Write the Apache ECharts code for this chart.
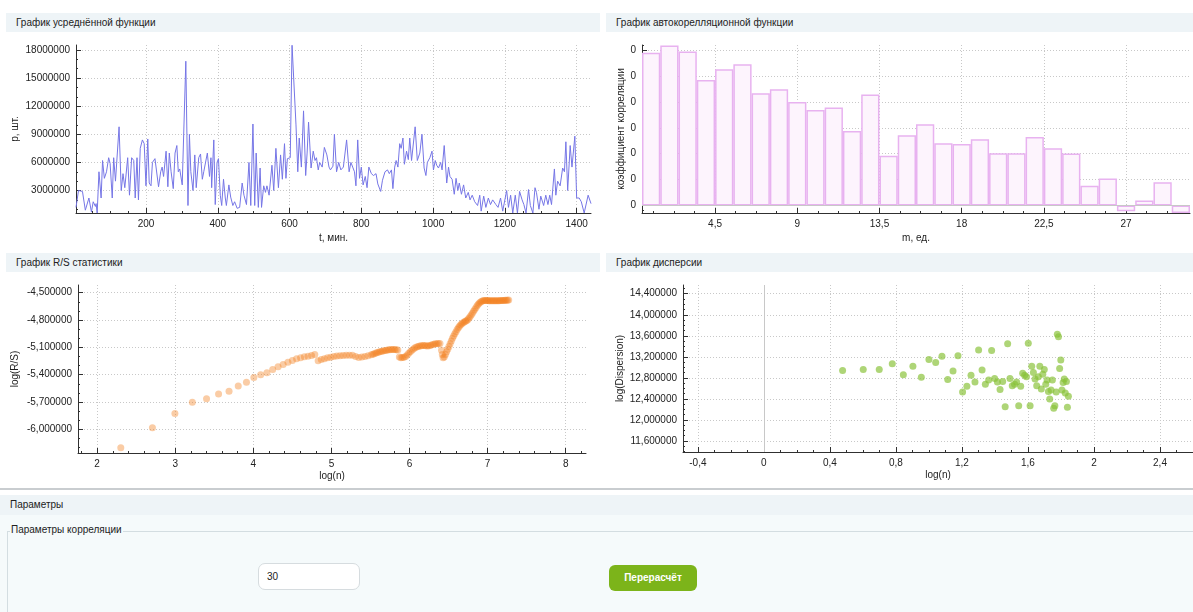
<!DOCTYPE html>
<html><head><meta charset="utf-8">
<script src="https://cdn.jsdelivr.net/npm/echarts@6/dist/echarts.min.js"></script>
<style>
html,body{margin:0;padding:0}
body{width:1193px;height:612px;overflow:hidden;background:#fff;font-family:"Liberation Sans",Arial,sans-serif;color:#222;position:relative}
.hdr{position:absolute;height:19px;line-height:19px;background:#eef4f7;padding-left:10px;box-sizing:border-box;font-size:10px;color:#222;z-index:2}
#c{position:absolute;left:0;top:0;width:1193px;height:490px;z-index:1}
#sep{position:absolute;left:0;top:488px;width:1193px;height:2px;background:#c9cdd0}
#params{position:absolute;left:0;top:495px;width:1193px;height:20px;line-height:20px;background:#eef4f7;padding-left:10px;box-sizing:border-box;font-size:10px}
#area{position:absolute;left:0;top:515px;width:1193px;height:97px;background:#f5fafb}
#gb{position:absolute;left:7px;top:531px;width:1186px;height:81px;border-left:1px solid #d3dde1;border-top:1px solid #d3dde1}
#gbt{position:absolute;left:10px;top:523px;font-size:10px;background:#f5fafb;padding:0 1px;line-height:14px}
#inp{position:absolute;left:258px;top:563px;width:102px;height:27px;box-sizing:border-box;border:1px solid #d6dcdf;border-radius:7px;background:#fff;font-size:10px;line-height:25px;padding-left:8px}
#btn{position:absolute;left:609px;top:565px;width:88px;height:26px;border-radius:6px;background:#7cb41a;color:#fff;font-weight:bold;font-size:10px;line-height:26px;text-align:center}
</style></head>
<body>
<div class="hdr" style="left:6px;top:13px;width:594px">График усреднённой функции</div>
<div class="hdr" style="left:606px;top:13px;width:587px">График автокорелляционной функции</div>
<div class="hdr" style="left:6px;top:253px;width:594px">График R/S статистики</div>
<div class="hdr" style="left:606px;top:253px;width:587px">График дисперсии</div>
<div id="c"></div>
<div id="sep"></div>
<div id="params">Параметры</div>
<div id="area"></div>
<div id="gb"></div>
<div id="gbt">Параметры корреляции</div>
<div id="inp">30</div>
<div id="btn">Перерасчёт</div>
<script>
// ---- Chart 1: averaged function ----
const tMinutes = [5,12,23,31,41,48,53,59,61,64,69,75,79,84,90,96,100,106,110,115,125,131,136,141,149,154,160,166,170,175,179,184,190,195,200,205,209,214,218,225,230,235,241,245,249,256,261,265,270,276,281,286,290,294,301,311,317,321,325,331,336,340,347,352,357,361,371,377,381,383,389,393,398,402,407,411,416,421,424,431,436,442,447,454,461,468,473,480,487,492,498,503,507,513,518,522,528,533,537,543,551,556,562,569,575,580,586,590,594,599,602,607,612,618,623,627,633,639,645,649,653,660,666,671,675,680,684,691,697,704,710,714,721,725,731,737,743,750,759,766,771,776,781,785,790,795,800,805,811,816,821,828,834,841,846,854,859,866,873,878,884,888,893,897,902,907,911,916,920,926,931,935,940,950,956,963,969,975,980,984,991,997,1001,1006,1010,1015,1021,1025,1031,1038,1043,1047,1053,1059,1064,1069,1073,1079,1085,1091,1098,1103,1109,1116,1124,1130,1134,1141,1147,1154,1160,1166,1175,1181,1188,1194,1205,1210,1216,1222,1229,1235,1241,1248,1253,1259,1266,1271,1278,1284,1288,1295,1300,1308,1314,1320,1325,1330,1338,1342,1347,1354,1361,1366,1370,1375,1382,1387,1395,1400,1407,1413,1421,1432,1437,1440];
const pValues = [1200000,3000000,2900000,900000,2200000,700000,1800000,1300000,1600000,600000,5000000,2200000,6200000,4300000,5000000,6500000,5900000,2200000,6500000,4000000,9800000,3000000,4800000,3300000,6500000,2500000,6500000,6200000,2200000,6500000,2000000,7500000,8400000,8000000,3500000,8500000,3800000,3500000,6000000,6400000,6300000,3400000,5000000,5500000,4500000,7200000,3400000,7000000,5000000,3200000,7000000,7800000,5000000,5300000,3600000,16800000,1400000,9000000,5000000,3000000,6800000,3300000,6500000,6900000,4200000,5000000,7000000,4500000,6500000,3300000,8400000,1500000,6000000,6400000,2500000,1400000,4200000,2200000,1400000,3600000,2300000,1400000,1800000,1100000,1200000,3800000,2500000,1500000,6000000,1400000,10100000,1400000,7000000,1200000,5400000,1200000,3500000,2800000,3500000,2500000,5700000,3000000,7500000,3300000,6800000,4200000,8000000,4300000,6400000,6400000,6500000,18500000,18300000,10000000,5000000,8600000,5500000,11500000,4600000,7000000,10300000,5400000,7200000,6200000,6500000,5200000,6000000,5500000,7600000,6800000,5500000,5200000,5600000,9000000,5000000,6000000,5200000,5500000,8400000,5000000,6000000,5500000,5000000,3500000,8400000,4300000,5500000,3600000,4500000,3300000,5500000,4800000,4600000,4800000,3700000,2900000,4100000,5000000,5200000,4800000,5200000,3200000,5500000,6200000,5500000,8000000,7500000,8600000,5800000,7200000,6300000,8600000,6200000,9800000,6200000,7000000,9000000,5400000,4600000,6000000,6500000,7200000,5200000,6200000,5700000,5400000,6000000,5200000,7800000,3800000,5500000,4500000,4200000,2600000,4300000,3000000,3800000,2600000,3600000,2200000,2800000,2000000,2500000,1800000,1400000,2500000,800000,2400000,1200000,2200000,1500000,2000000,1500000,1200000,2200000,800000,3000000,1200000,2500000,600000,2500000,600000,2900000,2000000,1500000,600000,3100000,1400000,600000,3300000,2800000,1000000,2400000,1400000,2500000,1500000,2500000,1500000,5300000,2500000,4000000,3500000,5400000,5000000,8200000,3000000,7800000,5500000,8800000,2200000,2200000,1800000,600000,2500000,2300000,1600000];
const tTicks = [200,400,600,800,1000,1200,1400];
const tMinorTicks = [50,100,150,250,300,350,450,500,550,650,700,750,850,900,950,1050,1100,1150,1250,1300,1350];
const pTicks = [3000000,6000000,9000000,12000000,15000000,18000000];
const pMinorTicks = [1000000,2000000,4000000,5000000,7000000,8000000,10000000,11000000,13000000,14000000,16000000,17000000];

// ---- Chart 2: autocorrelation ----
const lagM = [1,2,3,4,5,6,7,8,9,10,11,12,13,14,15,16,17,18,19,20,21,22,23,24,25,26,27,28,29,30];
const acfValues = [0.590,0.618,0.595,0.485,0.526,0.546,0.434,0.449,0.400,0.369,0.379,0.288,0.429,0.192,0.271,0.314,0.240,0.238,0.256,0.202,0.202,0.265,0.221,0.201,0.076,0.104,-0.022,0.019,0.090,-0.029];
const mTicks = [4.5,9,13.5,18,22.5,27];
const mMinorTicks = [1.125,2.25,3.375,5.625,6.75,7.875,10.125,11.25,12.375,14.625,15.75,16.875,19.125,20.25,21.375,23.625,24.75,25.875,28.125,29.25,30.375];
const acfTicks = [0,0.1,0.2,0.3,0.4,0.5,0.6];
const acfMinorTicks = [-0.02,0.02,0.04,0.06,0.08,0.12,0.14,0.16,0.18,0.22,0.24,0.26,0.28,0.32,0.34,0.36,0.38,0.42,0.44,0.46,0.48,0.52,0.54,0.56,0.58,0.62];

// ---- Chart 3: R/S statistics ----
const rsLogN = [2.303,2.708,2.996,3.219,3.401,3.555,3.689,3.807,3.912,4.007,4.094,4.174,4.248,4.317,4.382,4.443,4.500,4.554,4.605,4.654,4.700,4.745,4.787,
4.83,4.87,4.91,4.95,4.99,5.03,5.07,5.11,5.15,5.19,5.23,5.27,5.31,5.35,5.39,5.43,5.47,5.51,5.53,5.55,5.57,5.59,5.61,5.63,5.65,5.67,5.69,5.71,5.73,5.75,5.77,5.79,5.81,5.83,5.85,
5.87,5.89,5.91,5.93,5.95,5.97,5.99,6.01,6.03,6.05,6.07,6.09,6.11,6.13,6.15,6.17,6.19,6.21,6.23,6.25,6.27,6.29,6.31,6.33,6.35,6.37,6.39,
6.41,6.42,6.43,6.445,6.46,6.475,6.49,6.505,6.52,6.535,6.55,6.565,6.58,6.595,6.61,6.625,6.64,6.655,6.67,6.685,6.70,6.715,6.73,6.745,6.76,6.775,6.79,6.805,6.82,6.835,6.85,6.865,6.88,6.895,6.91,6.925,6.94,6.955,6.97,6.985,7.00,7.015,7.03,7.045,7.06,7.075,7.09,7.105,7.12,7.135,7.15,7.165,7.18,7.195,7.21,7.225,7.24,7.255,7.27];
const rsLogRS = [-6.202,-5.982,-5.827,-5.703,-5.665,-5.612,-5.583,-5.525,-5.483,-5.431,-5.402,-5.380,-5.343,-5.314,-5.288,-5.263,-5.244,-5.226,-5.215,-5.204,-5.197,-5.190,-5.178,
-5.248,-5.235,-5.225,-5.215,-5.208,-5.202,-5.196,-5.192,-5.189,-5.187,-5.186,-5.188,-5.200,-5.211,-5.207,-5.200,-5.192,-5.182,-5.176,-5.170,-5.163,-5.157,-5.152,-5.147,-5.142,-5.138,-5.135,-5.131,-5.128,-5.126,-5.124,-5.123,-5.124,-5.127,-5.130,
-5.205,-5.215,-5.213,-5.208,-5.200,-5.185,-5.165,-5.148,-5.132,-5.118,-5.105,-5.097,-5.090,-5.085,-5.082,-5.080,-5.080,-5.082,-5.085,-5.083,-5.078,-5.072,-5.066,-5.062,-5.060,-5.058,-5.057,
-5.131,-5.180,-5.215,-5.205,-5.180,-5.150,-5.120,-5.090,-5.060,-5.030,-5.000,-4.975,-4.950,-4.928,-4.905,-4.885,-4.868,-4.852,-4.840,-4.830,-4.822,-4.815,-4.808,-4.798,-4.782,-4.765,-4.745,-4.725,-4.705,-4.685,-4.665,-4.645,-4.628,-4.614,-4.603,-4.595,-4.590,-4.587,-4.586,-4.586,-4.587,-4.588,-4.588,-4.589,-4.589,-4.590,-4.590,-4.590,-4.590,-4.589,-4.588,-4.587,-4.587,-4.586,-4.585,-4.584,-4.583,-4.583,-4.582];
const rsXTicks = [2,3,4,5,6,7,8];
const rsXMinorTicks = [1.8,2.2,2.4,2.6,2.8,3.2,3.4,3.6,3.8,4.2,4.4,4.6,4.8,5.2,5.4,5.6,5.8,6.2,6.4,6.6,6.8,7.2,7.4,7.6,7.8,8.2];
const rsYTicks = [-6.0,-5.7,-5.4,-5.1,-4.8,-4.5];
const rsYMinorTicks = [-6.2,-6.1,-5.9,-5.8,-5.6,-5.5,-5.3,-5.2,-5.0,-4.9,-4.7,-4.6];

// ---- Chart 4: dispersion ----
const dispLogN = [0.477,0.602,0.699,0.778,0.845,0.903,0.954,1.000,1.041,1.079,1.114,1.146,1.176,1.204,1.230,1.255,1.279,1.301,1.322,1.342,1.362,1.380,1.398,1.415,1.431,1.447,1.462,1.477,1.491,1.505,1.519,1.531,1.544,1.556,1.568,1.580,1.591,1.602,1.613,1.623,1.633,1.643,1.653,1.663,1.672,1.681,1.690,1.699,1.708,1.716,1.724,1.732,1.740,1.748,1.756,1.763,1.771,1.778,1.785,1.792,1.799,1.806,1.813,1.820,1.826,1.833,1.839,1.845];
const dispLogD = [12.94,12.96,12.96,13.07,12.86,13.02,12.81,13.15,13.09,13.21,12.77,12.93,13.22,12.53,12.64,12.85,12.72,13.33,12.95,12.68,12.76,13.32,12.79,12.72,12.58,12.73,12.25,13.45,12.79,12.65,12.68,12.72,12.27,12.64,12.89,12.85,12.82,13.46,12.27,13.02,12.90,12.78,12.65,12.82,13.02,12.59,12.87,12.96,12.68,12.76,12.54,12.40,12.57,12.76,12.22,12.27,12.53,13.63,13.58,12.98,13.14,12.57,12.71,12.78,12.51,12.73,12.24,12.45];
const dXTicks = [-0.4,0,0.4,0.8,1.2,1.6,2,2.4];
const dXMinorTicks = [-0.3,-0.2,-0.1,0.1,0.2,0.3,0.5,0.6,0.7,0.9,1.0,1.1,1.3,1.4,1.5,1.7,1.8,1.9,2.1,2.2,2.3,2.5];
const dYTicks = [11.6,12.0,12.4,12.8,13.2,13.6,14.0,14.4];
const dYMinorTicks = [11.4,11.5,11.7,11.8,11.9,12.1,12.2,12.3,12.5,12.6,12.7,12.9,13.0,13.1,13.3,13.4,13.5,13.7,13.8,13.9,14.1,14.2,14.3,14.5];

const pair = (xs, ys) => xs.map((x, i) => [x, ys[i]]);
const FONT = '"Liberation Sans", Arial, sans-serif';
const AX = '#303030';
const comma = s => String(s).replace('.', ',');

function axis(gridIndex, opts) {
  return Object.assign({
    type: 'value', gridIndex,
    axisLine: { show: true, onZero: false, lineStyle: { color: AX, width: 1 } },
    axisTick: { show: true, inside: true, length: 5, lineStyle: { color: AX }, customValues: opts.ticks },
    axisLabel: { color: '#222', fontSize: 10, fontFamily: FONT, customValues: opts.ticks, formatter: opts.fmt, margin: 6 },
    splitLine: { show: true, lineStyle: { color: '#c8c8c8', type: [1, 2], width: 1 } },
    nameLocation: 'middle',
    nameTextStyle: { color: '#222', fontSize: 10, fontFamily: FONT },
  }, opts.extra || {});
}
function minorAxis(gridIndex, pos, min, max, ticks) {
  return {
    type: 'value', gridIndex, position: pos, min, max,
    axisLine: { show: false, onZero: false },
    axisTick: { show: true, inside: true, length: 2, lineStyle: { color: AX }, customValues: ticks },
    axisLabel: { show: false },
    splitLine: { show: false }
  };
}

const option = {
  animation: false,
  backgroundColor: 'transparent',
  grid: [
    { left: 76, top: 45, width: 515, height: 168 },
    { left: 642, top: 45, width: 548, height: 168 },
    { left: 78, top: 285, width: 508, height: 168 },
    { left: 683, top: 285, width: 510, height: 167 }
  ],
  xAxis: [
    axis(0, { ticks: tTicks, fmt: v => String(v), extra: { min: 5, max: 1440, name: 't, мин.', nameGap: 20 } }),
    axis(1, { ticks: mTicks, fmt: v => comma(v), extra: { min: 0.5, max: 30.5, name: 'm, ед.', nameGap: 20 } }),
    axis(2, { ticks: rsXTicks, fmt: v => String(v), extra: { min: 1.755, max: 8.26, name: 'log(n)', nameGap: 18 } }),
    axis(3, { ticks: dXTicks, fmt: v => comma(Math.round(v * 10) / 10), extra: { min: -0.49, max: 2.6, name: 'log(n)', nameGap: 18 } }),
    minorAxis(0, 'bottom', 5, 1440, tMinorTicks),
    minorAxis(1, 'bottom', 0.5, 30.5, mMinorTicks),
    minorAxis(2, 'bottom', 1.755, 8.26, rsXMinorTicks),
    minorAxis(3, 'bottom', -0.49, 2.6, dXMinorTicks)
  ],
  yAxis: [
    axis(0, { ticks: pTicks, fmt: v => String(v), extra: { min: 600000, max: 18530000, name: 'p, шт.', nameGap: 56 } }),
    axis(1, { ticks: acfTicks, fmt: v => '0', extra: { min: -0.029, max: 0.62, name: 'коэффициент корреляции', nameGap: 16 } }),
    axis(2, { ticks: rsYTicks, fmt: v => comma(v.toFixed(6)), extra: { min: -6.26, max: -4.416, name: 'log(R/S)', nameGap: 58 } }),
    axis(3, { ticks: dYTicks, fmt: v => comma(v.toFixed(6)), extra: { min: 11.39, max: 14.566, name: 'log(Dispersion)', nameGap: 58 } }),
    minorAxis(0, 'left', 600000, 18530000, pMinorTicks),
    minorAxis(1, 'left', -0.029, 0.62, acfMinorTicks),
    minorAxis(2, 'left', -6.26, -4.416, rsYMinorTicks),
    minorAxis(3, 'left', 11.39, 14.566, dYMinorTicks)
  ],
  series: [
    { type: 'line', xAxisIndex: 0, yAxisIndex: 0, data: pair(tMinutes, pValues), showSymbol: false, symbol: 'none',
      lineStyle: { color: '#7676e6', width: 1 }, clip: true },
    { type: 'bar', xAxisIndex: 1, yAxisIndex: 1, data: pair(lagM, acfValues), barWidth: '100%',
      itemStyle: { color: '#fdf4fd', borderColor: '#e8b2f0', borderWidth: 1.5 },
      markLine: { silent: true, symbol: 'none', label: { show: false }, lineStyle: { color: '#c8c8c8', width: 1, type: 'solid' }, data: [{ yAxis: 0 }] } },
    { type: 'scatter', xAxisIndex: 2, yAxisIndex: 2, data: pair(rsLogN, rsLogRS), symbolSize: 7,
      itemStyle: { color: 'rgba(242,128,30,0.5)' } },
    { type: 'scatter', xAxisIndex: 3, yAxisIndex: 3, data: pair(dispLogN, dispLogD), symbolSize: 7,
      itemStyle: { color: 'rgba(137,193,55,0.85)' },
      markLine: { silent: true, symbol: 'none', label: { show: false }, lineStyle: { color: '#c8c8c8', width: 1, type: 'solid' }, data: [{ xAxis: 0 }] } }
  ]
};
const chart = echarts.init(document.getElementById('c'));
chart.setOption(option);
</script>
</body></html>
